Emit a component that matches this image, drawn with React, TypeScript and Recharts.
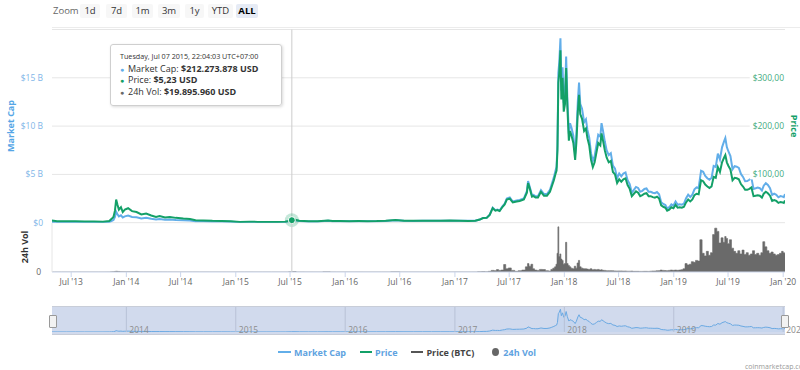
import React from 'react';
import {
  ComposedChart,
  AreaChart,
  Line,
  Area,
  XAxis,
  YAxis,
  CartesianGrid,
  ReferenceLine,
  ReferenceDot,
} from 'recharts';

// ---------- DATA ----------
const dates = [
  '2013-04-28','2013-05-15','2013-06-15','2013-07-15','2013-08-15','2013-09-15','2013-10-15','2013-11-05','2013-11-12','2013-11-19',
  '2013-11-24','2013-11-28','2013-12-02','2013-12-07','2013-12-14','2013-12-20','2013-12-27','2014-01-07','2014-01-20','2014-02-04',
  '2014-02-20','2014-03-08','2014-03-25','2014-04-10','2014-04-22','2014-05-10','2014-05-26','2014-06-15','2014-07-10','2014-08-01',
  '2014-08-20','2014-09-15','2014-10-15','2014-11-15','2014-12-15','2015-01-15','2015-02-15','2015-03-15','2015-04-15','2015-05-15',
  '2015-06-15','2015-07-07','2015-07-11','2015-08-01','2015-09-01','2015-10-01','2015-11-05','2015-11-20','2015-12-15','2016-01-15',
  '2016-02-15','2016-03-15','2016-04-15','2016-05-15','2016-06-17','2016-07-15','2016-08-15','2016-09-15','2016-10-15','2016-11-15',
  '2016-12-15','2017-01-15','2017-02-15','2017-03-10','2017-03-25','2017-04-05','2017-04-17','2017-04-27','2017-05-07','2017-05-16',
  '2017-05-23','2017-05-30','2017-06-09','2017-06-16','2017-06-23','2017-07-03','2017-07-13','2017-07-26','2017-08-05','2017-08-19',
  '2017-08-29','2017-09-02','2017-09-08','2017-09-15','2017-09-20','2017-09-27','2017-10-05','2017-10-15','2017-10-25','2017-11-04',
  '2017-11-14','2017-11-20','2017-11-27','2017-12-02','2017-12-06','2017-12-09','2017-12-12','2017-12-15','2017-12-19','2017-12-22',
  '2017-12-26','2017-12-30','2018-01-03','2018-01-07','2018-01-11','2018-01-16','2018-01-20','2018-01-25','2018-01-31','2018-02-06',
  '2018-02-10','2018-02-15','2018-02-19','2018-02-23','2018-03-01','2018-03-08','2018-03-14','2018-03-19','2018-03-25','2018-03-31',
  '2018-04-06','2018-04-12','2018-04-18','2018-04-24','2018-05-01','2018-05-05','2018-05-10','2018-05-16','2018-05-22','2018-05-29',
  '2018-06-05','2018-06-12','2018-06-19','2018-06-26','2018-07-03','2018-07-10','2018-07-17','2018-07-24','2018-07-31','2018-08-07',
  '2018-08-14','2018-08-21','2018-08-28','2018-09-04','2018-09-11','2018-09-18','2018-09-25','2018-10-02','2018-10-09','2018-10-16',
  '2018-10-23','2018-10-30','2018-11-06','2018-11-13','2018-11-20','2018-11-27','2018-12-04','2018-12-10','2018-12-17','2018-12-24',
  '2018-12-31','2019-01-07','2019-01-14','2019-01-21','2019-01-28','2019-02-04','2019-02-11','2019-02-18','2019-02-25','2019-03-04',
  '2019-03-11','2019-03-18','2019-03-25','2019-04-02','2019-04-09','2019-04-16','2019-04-23','2019-04-30','2019-05-07','2019-05-14',
  '2019-05-21','2019-05-28','2019-06-04','2019-06-11','2019-06-18','2019-06-22','2019-06-27','2019-07-02','2019-07-09','2019-07-16',
  '2019-07-23','2019-07-30','2019-08-06','2019-08-13','2019-08-20','2019-08-27','2019-09-03','2019-09-10','2019-09-17','2019-09-24',
  '2019-10-01','2019-10-08','2019-10-15','2019-10-22','2019-10-28','2019-11-04','2019-11-11','2019-11-18','2019-11-25','2019-12-02',
  '2019-12-09','2019-12-16','2019-12-23','2019-12-30','2020-01-03','2020-01-07',
];

// Price in USD
const price = [
  4.35,3.2,2.9,2.9,2.6,2.4,2.2,3.5,7.5,12,
  25,48,38,27,32,22,27,30,24,22,
  17,19,15,12,14,11,12,10,8.5,7.5,
  5,4.8,4,3.7,3,1.6,1.8,1.7,1.5,1.4,
  1.8,5.23,6.8,4.2,2.9,3,4.5,3.3,3.5,3.2,
  3.3,3.2,3.3,4,5.5,4.1,3.8,3.9,3.9,3.8,
  4.3,3.9,3.7,4,6.5,9.5,10,16,30,25,
  26,24,33,38,48,50,42,44,45,48,
  62,82,70,54,55,52,52,64,56,56,
  64,75,88,100,108,150,290,310,357,255,
  300,230,245,320,240,170,190,180,165,130,
  165,230,265,225,215,190,195,175,160,130,
  115,125,145,165,160,185,170,150,135,125,
  128,105,100,82,90,85,90,92,78,70,
  55,60,65,62,55,57,60,61,55,55,
  53,52,54,50,36,33,31,25,27,32,
  30,37,31,32,31,33,42,48,44,48,
  57,60,59,88,86,79,75,72,75,95,
  93,115,105,125,135,140,125,118,110,88,
  93,92,90,80,75,68,68,70,73,55,
  56,57,56,52,60,64,61,56,45,47,
  45,41,43,42,41,46,
];

// Market cap in billions USD
const marketCapB = [
  0.075,0.056,0.052,0.055,0.051,0.049,0.047,0.08,0.17,0.28,
  0.59,1.14,0.9,0.65,0.77,0.54,0.66,0.74,0.6,0.56,
  0.44,0.5,0.4,0.33,0.39,0.31,0.34,0.29,0.25,0.22,
  0.15,0.15,0.13,0.12,0.1,0.057,0.064,0.062,0.056,0.053,
  0.069,0.2123,0.28,0.17,0.12,0.13,0.2,0.14,0.15,0.14,
  0.15,0.145,0.15,0.18,0.26,0.19,0.18,0.19,0.19,0.19,
  0.21,0.2,0.19,0.2,0.33,0.49,0.52,0.83,1.56,1.3,
  1.35,1.25,1.72,1.98,2.5,2.61,2.19,2.3,2.36,2.52,
  3.26,4.31,3.68,2.84,2.89,2.74,2.75,3.38,2.96,2.97,
  3.4,3.99,4.69,5.33,5.76,8.0,15.5,16.6,19.1,13.7,
  16.1,12.4,13.2,17.2,12.9,9.2,10.3,9.8,9.0,7.1,
  9.0,12.6,14.5,12.3,11.8,10.4,10.7,9.6,8.8,7.2,
  6.4,6.9,8.0,9.1,8.9,10.3,9.5,8.4,7.5,7.0,
  7.2,5.9,5.6,4.6,5.1,4.8,5.1,5.2,4.4,4.0,
  3.1,3.4,3.7,3.6,3.2,3.3,3.5,3.55,3.2,3.2,
  3.1,3.05,3.17,2.94,2.12,1.94,1.83,1.48,1.6,1.9,
  1.78,2.2,1.85,1.91,1.86,1.98,2.53,2.9,2.66,2.9,
  3.46,3.65,3.6,5.38,5.27,4.85,4.61,4.44,4.63,5.88,
  5.77,7.15,6.54,7.8,8.44,8.76,7.83,7.4,6.9,5.53,
  5.85,5.8,5.68,5.05,4.74,4.3,4.31,4.44,4.64,3.5,
  3.56,3.63,3.57,3.32,3.83,4.09,3.9,3.58,2.88,3.01,
  2.89,2.63,2.76,2.7,2.64,2.96,
];

// 24h volume in billions USD
const volumeB = [
  0,0,0,0,0.001,0.001,0.002,0.005,0.02,0.05,
  0.08,0.12,0.1,0.08,0.05,0.04,0.03,0.03,0.02,0.02,
  0.015,0.015,0.01,0.01,0.01,0.005,0.005,0.004,0.004,0.003,
  0.003,0.003,0.002,0.002,0.002,0.003,0.003,0.002,0.002,0.002,
  0.004,0.0199,0.06,0.01,0.003,0.002,0.02,0.005,0.004,0.003,
  0.003,0.002,0.002,0.004,0.02,0.004,0.003,0.002,0.002,0.003,
  0.004,0.01,0.005,0.01,0.05,0.06,0.04,0.1,0.25,0.2,
  0.37,0.25,0.3,1.16,0.5,0.63,0.25,0.1,0.2,0.3,
  0.8,1.3,0.9,1.2,0.5,0.3,0.25,0.4,0.37,0.2,
  0.15,0.4,0.6,0.8,1.2,2.9,7.0,2.4,2.8,2.0,
  1.8,1.2,1.3,4.6,1.3,1.0,0.8,0.6,0.5,0.9,
  0.6,1.4,1.8,0.8,0.6,0.5,0.5,0.45,0.4,0.5,
  0.35,0.4,0.35,0.4,0.3,0.35,0.26,0.25,0.2,0.2,
  0.2,0.18,0.16,0.15,0.16,0.16,0.14,0.15,0.12,0.12,
  0.14,0.1,0.1,0.1,0.09,0.09,0.1,0.1,0.09,0.12,
  0.15,0.15,0.18,0.2,0.3,0.25,0.22,0.2,0.25,0.3,
  0.26,0.3,0.26,0.3,0.35,0.5,1.3,1.1,1.2,1.6,
  1.5,1.8,1.7,5.0,2.9,2.5,3.2,2.6,3.0,5.8,
  6.8,6.3,4.5,5.3,4.6,5.5,5.2,4.4,5.0,3.7,
  3.2,2.9,3.3,2.8,3.4,2.7,3.0,2.6,2.8,3.3,
  2.7,2.9,2.6,3.0,4.7,3.9,3.3,2.9,3.1,2.8,
  2.6,2.7,2.9,3.2,3.0,2.9,
];

const tickDates = [
  '2013-07-01','2014-01-01','2014-07-01','2015-01-01','2015-07-01','2016-01-01','2016-07-01',
  '2017-01-01','2017-07-01','2018-01-01','2018-07-01','2019-01-01','2019-07-01','2020-01-01',
];
const tickLabels = [
  "Jul '13","Jan '14","Jul '14","Jan '15","Jul '15","Jan '16","Jul '16",
  "Jan '17","Jul '17","Jan '18","Jul '18","Jan '19","Jul '19","Jan '20",
];
const navYears = ['2014','2015','2016','2017','2018','2019','2020'];
const mcapTicks = [0, 5, 10, 15];
const priceTicks = [0, 100, 200, 300];
const volTicks = [0];
const zoomButtons = ['1d', '7d', '1m', '3m', '1y', 'YTD', 'ALL'];

const hoverDate = '2015-07-07';
const hoverPrice = 5.23;

// ---------- BUILD ----------
const data = dates.map((d, i) => ({
  t: Date.parse(d),
  price: price[i],
  mcap: marketCapB[i],
  vol: volumeB[i],
}));
const xDomain = [data[0].t, data[data.length - 1].t];
const tickTs = tickDates.map((d) => Date.parse(d));
const hoverT = Date.parse(hoverDate);

const MCAP_COLOR = '#62aee9';
const PRICE_COLOR = '#13a068';
const VOL_COLOR = '#6a6a6a';
const FONT = '"Open Sans", "Noto Sans", sans-serif';

const fmtMcap = (v: number) => (v === 0 ? '$0' : `$${v} B`);
const fmtPrice = (v: number) => (v === 0 ? '$0' : `$${v},00`);

const PriceTick = (p: any) => {
  const label = fmtPrice(p.payload.value);
  const w = label.length * 4.9;
  return (
    <g>
      <rect x={p.x - w - 1} y={p.y - 5} width={w + 1} height={10} fill="#fff" />
      <text x={p.x - 1} y={p.y} dy="0.33em" textAnchor="end" fill="#45ab80" fontSize={8.5} fontFamily={FONT}>
        {label}
      </text>
    </g>
  );
};

const navLabel = (year: string) => (p: any) => {
  const vb = p.viewBox || {};
  return (
    <text x={(vb.x || 0) + 3} y={(vb.y || 0) + (vb.height || 0) + 1} fill="#8c8c8c" fontSize={8.5} fontFamily={FONT}>
      {year}
    </text>
  );
};

const zoomLeft = [80, 106, 132, 158, 185, 208, 236];
const zoomWidth = [20, 21, 21, 22, 19, 25, 22];

const bullet = (color: string) => (
  <span style={{ color, display: 'inline-block', width: 8, fontSize: 7 }}>●</span>
);

const tipRow: React.CSSProperties = { fontSize: 9, lineHeight: '11.4px', height: 11.4, overflow: 'visible' };

export default function App() {
  return (
    <div
      style={{
        position: 'fixed',
        left: 0,
        top: 0,
        width: 800,
        height: 370,
        background: '#fff',
        overflow: 'hidden',
        fontFamily: FONT,
      }}
    >
      {/* Range selector */}
      <div style={{ position: 'absolute', left: 53, top: 4, height: 14, lineHeight: '14px', fontSize: 9.5, color: '#666' }}>Zoom</div>
      {zoomButtons.map((b, i) => (
        <div
          key={b}
          style={{
            position: 'absolute',
            left: zoomLeft[i],
            top: 4,
            width: zoomWidth[i],
            height: 14,
            lineHeight: '14px',
            textAlign: 'center',
            fontSize: 9.5,
            background: b === 'ALL' ? '#e6ebf5' : '#f7f7f7',
            color: b === 'ALL' ? '#000' : '#333',
            fontWeight: b === 'ALL' ? 700 : 400,
            borderRadius: 2,
          }}
        >
          {b}
        </div>
      ))}
      <div style={{ position: 'absolute', left: 52, top: 27, width: 748, height: 1, background: '#ececec' }} />

      {/* Main pane */}
      <div style={{ position: 'absolute', left: 0, top: 0 }}>
        <ComposedChart width={800} height={230} data={data} margin={{ top: 29.5, right: 14, bottom: 7.3, left: 0 }}>
          <CartesianGrid yAxisId="mcap" vertical={false} stroke="#e6e6e6" />
          <XAxis type="number" dataKey="t" domain={xDomain} hide allowDataOverflow />
          <YAxis
            yAxisId="mcap"
            domain={[0, 20]}
            ticks={mcapTicks}
            tickFormatter={fmtMcap}
            width={52}
            axisLine={false}
            tickLine={false}
            tickSize={0}
            tickMargin={9}
            tick={{ fill: '#7fb6e8', fontSize: 8.5, fontFamily: FONT }}
            allowDataOverflow
          />
          <YAxis
            yAxisId="price"
            orientation="right"
            domain={[0, 400]}
            ticks={priceTicks}
            width={1}
            axisLine={false}
            tickLine={false}
            tickSize={0}
            tickMargin={0}
            tick={<PriceTick />}
            allowDataOverflow
          />
          <ReferenceLine yAxisId="mcap" x={hoverT} stroke="#cccccc" strokeWidth={1} />
          <Line
            yAxisId="mcap"
            dataKey="mcap"
            type="linear"
            stroke={MCAP_COLOR}
            strokeWidth={2}
            dot={false}
            isAnimationActive={false}
          />
          <Line
            yAxisId="price"
            dataKey="price"
            type="linear"
            stroke={PRICE_COLOR}
            strokeWidth={2}
            dot={false}
            isAnimationActive={false}
          />
          <ReferenceDot yAxisId="price" x={hoverT} y={hoverPrice} r={7} fill={PRICE_COLOR} fillOpacity={0.25} stroke="none" />
          <ReferenceDot yAxisId="price" x={hoverT} y={hoverPrice} r={3.5} fill={PRICE_COLOR} stroke="#fff" strokeWidth={1} />
        </ComposedChart>
      </div>

      {/* Volume pane */}
      <div style={{ position: 'absolute', left: 0, top: 222 }}>
        <ComposedChart width={800} height={72} data={data} margin={{ top: 1, right: 15, bottom: 0, left: 0 }}>
          <XAxis
            type="number"
            dataKey="t"
            domain={xDomain}
            ticks={tickTs}
            interval={0}
            tickFormatter={(v: number) => tickLabels[tickTs.indexOf(v)] ?? ''}
            height={22}
            tickSize={5}
            tickMargin={2}
            stroke="#ccd6eb"
            tick={{ fill: '#666', fontSize: 8.5, fontFamily: FONT }}
            allowDataOverflow
          />
          <YAxis
            domain={[0, 7.6]}
            ticks={volTicks}
            width={52}
            tickLine={false}
            tickSize={0}
            tickMargin={11}
            axisLine={{ stroke: '#e6e6e6' }}
            tick={{ fill: '#666', fontSize: 8.5, fontFamily: FONT }}
            allowDataOverflow
          />
          <Area
            dataKey="vol"
            type="step"
            stroke={VOL_COLOR}
            strokeWidth={0.6}
            fill={VOL_COLOR}
            fillOpacity={1}
            dot={false}
            isAnimationActive={false}
          />
          <ReferenceLine x={hoverT} stroke="#cccccc" strokeWidth={1} />
        </ComposedChart>
      </div>

      {/* Navigator */}
      <div
        style={{
          position: 'absolute',
          left: 52,
          top: 306,
          width: 733,
          height: 29,
          background: '#d1daed',
          boxSizing: 'border-box',
          borderTop: '1px solid #c8cdd8',
          borderBottom: '1px solid #c8cdd8',
        }}
      />
      <div style={{ position: 'absolute', left: 0, top: 306 }}>
        <AreaChart width={800} height={29} data={data} margin={{ top: 1, right: 15, bottom: 3, left: 52 }}>
          <XAxis type="number" dataKey="t" domain={xDomain} hide allowDataOverflow />
          <YAxis domain={[0, 21]} hide allowDataOverflow />
          {navYears.map((y) => (
            <ReferenceLine
              key={y}
              x={Date.parse(`${y}-01-01`)}
              stroke="#b8c1d6"
              strokeWidth={1}
              label={navLabel(y)}
              ifOverflow="visible"
            />
          ))}
          <Area
            dataKey="mcap"
            type="linear"
            stroke="#6aa9e3"
            strokeWidth={1}
            fill="#7cb5ec"
            fillOpacity={0.12}
            dot={false}
            isAnimationActive={false}
          />
        </AreaChart>
      </div>
      {/* navigator handles */}
      <div style={{ position: 'absolute', left: 49, top: 315, width: 6, height: 11, background: '#f2f2f2', border: '1px solid #999', borderRadius: 1 }} />
      <div style={{ position: 'absolute', left: 781, top: 315, width: 6, height: 11, background: '#f2f2f2', border: '1px solid #999', borderRadius: 1 }} />

      {/* Axis titles */}
      <div
        style={{
          position: 'absolute',
          left: 10,
          top: 126,
          transform: 'translate(-50%, -50%) rotate(-90deg)',
          whiteSpace: 'nowrap',
          fontSize: 9,
          fontWeight: 700,
          color: '#55a6e6',
        }}
      >
        Market Cap
      </div>
      <div
        style={{
          position: 'absolute',
          left: 24,
          top: 247,
          transform: 'translate(-50%, -50%) rotate(-90deg)',
          whiteSpace: 'nowrap',
          fontSize: 9,
          fontWeight: 700,
          color: '#333',
        }}
      >
        24h Vol
      </div>
      <div
        style={{
          position: 'absolute',
          left: 794,
          top: 126,
          transform: 'translate(-50%, -50%) rotate(90deg)',
          whiteSpace: 'nowrap',
          fontSize: 9,
          fontWeight: 700,
          color: PRICE_COLOR,
        }}
      >
        Price
      </div>

      {/* Tooltip */}
      <div
        style={{
          position: 'absolute',
          left: 110,
          top: 44,
          width: 172,
          height: 62,
          boxSizing: 'border-box',
          background: 'rgba(255,255,255,0.96)',
          border: '1px solid #cfcfcf',
          borderRadius: 3,
          boxShadow: '1px 1px 3px rgba(0,0,0,0.15)',
          padding: '7px 0 0 9px',
          color: '#333',
          whiteSpace: 'nowrap',
        }}
      >
        <div style={{ fontSize: 7.2, lineHeight: '9px', height: 9, marginBottom: 2 }}>Tuesday, Jul 07 2015, 22:04:03 UTC+07:00</div>
        <div style={tipRow}>
          {bullet(MCAP_COLOR)}Market Cap: <b>$212.273.878 USD</b>
        </div>
        <div style={tipRow}>
          {bullet(PRICE_COLOR)}Price: <b>$5,23 USD</b>
        </div>
        <div style={tipRow}>
          {bullet(VOL_COLOR)}24h Vol: <b>$19.895.960 USD</b>
        </div>
      </div>

      {/* Legend */}
      <div style={{ position: 'absolute', left: 278, top: 346, height: 12, display: 'flex', alignItems: 'center', fontSize: 9, fontWeight: 700 }}>
        <span style={{ display: 'inline-block', width: 13, height: 2, background: MCAP_COLOR, marginRight: 3 }} />
        <span style={{ color: '#5fa3df', marginRight: 14 }}>Market Cap</span>
        <span style={{ display: 'inline-block', width: 12, height: 2, background: PRICE_COLOR, marginRight: 3 }} />
        <span style={{ color: '#5fa3df', marginRight: 14 }}>Price</span>
        <span style={{ display: 'inline-block', width: 12, height: 2, background: '#555', marginRight: 3 }} />
        <span style={{ color: '#444', marginRight: 18 }}>Price (BTC)</span>
        <span style={{ display: 'inline-block', width: 7, height: 8, borderRadius: '50%', background: '#666', marginRight: 4 }} />
        <span style={{ color: '#5fa3df' }}>24h Vol</span>
      </div>

      {/* Credit */}
      <div style={{ position: 'absolute', left: 745, top: 362, fontSize: 7, color: '#999', whiteSpace: 'nowrap' }}>coinmarketcap.com</div>
    </div>
  );
}
